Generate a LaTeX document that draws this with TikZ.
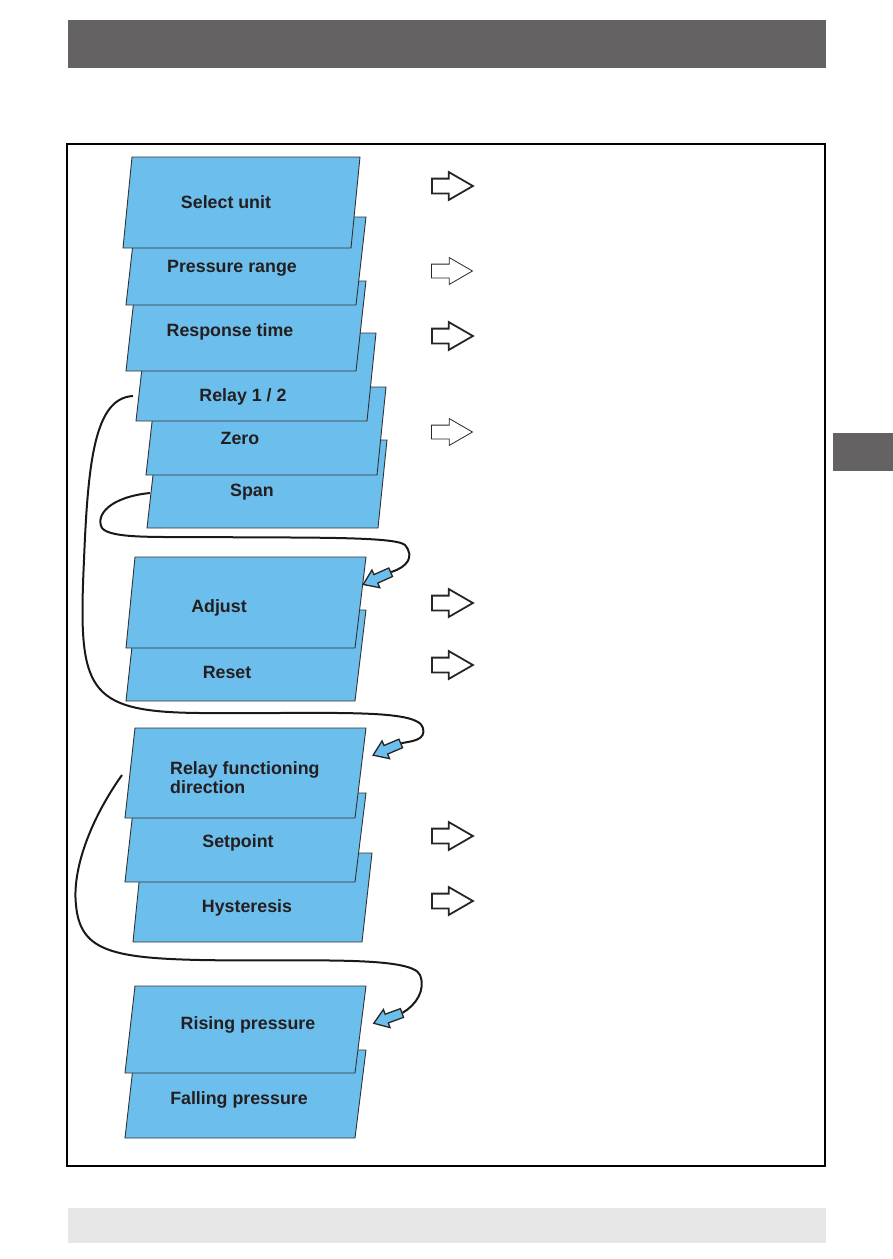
\documentclass[tikz,border=0pt]{standalone}
\usepackage{fontspec}
\setmainfont{Liberation Sans}
\usetikzlibrary{shapes.arrows}
\definecolor{foglio}{RGB}{108,190,236}
\definecolor{grigio}{RGB}{101,98,99}
\definecolor{grigiochiaro}{RGB}{230,230,230}
\definecolor{testo}{RGB}{35,31,32}

\begin{document}
\begin{tikzpicture}[x=1pt, y=-1pt, font=\bfseries\fontsize{17.8}{19.5}\selectfont,
    sheet/.style={fill=foglio, draw=black!80, line width=0.9pt},
    sheettext/.style={text=testo, inner sep=0pt},
    hollow/.style={single arrow, draw=black!85, fill=white, line width=1.8pt,
        minimum height=41pt, inner xsep=0pt, inner ysep=6.5pt,
        single arrow head extend=6.5pt, single arrow tip angle=60},
    thinhollow/.style={hollow, line width=0.8pt},
    bluearrow/.style={single arrow, draw=black!85, fill=foglio, line width=1.3pt,
        minimum height=30pt, inner xsep=0pt, inner ysep=4pt,
        single arrow head extend=5pt, single arrow tip angle=70},
    loopline/.style={draw=black!90, line width=2pt}]

        \useasboundingbox (0,0) rectangle (893,1259);

        % Barre grigie della pagina
        \fill[grigio] (68,20) rectangle (826,68);
        \fill[grigio] (833,433) rectangle (893,471);
        \fill[grigiochiaro] (68,1208) rectangle (826,1243);

        % Cornice
        \draw[line width=1.6pt] (67,144) rectangle (825,1166);

        % Primo gruppo di fogli (dal basso verso l'alto)
        \draw[sheet] (157,440) -- (387,440) -- (378,528) -- (147,528) -- cycle;
        \draw[sheet] (156,387) -- (386,387) -- (377,475) -- (146,475) -- cycle;
        \draw[sheet] (146,333) -- (376,333) -- (367,421) -- (136,421) -- cycle;
        \draw[sheet] (136,281) -- (366,281) -- (356,371) -- (126,371) -- cycle;
        \draw[sheet] (136,217) -- (366,217) -- (356,305) -- (126,305) -- cycle;
        \draw[sheet] (132,157) -- (360,157) -- (351,248) -- (123,248) -- cycle;

        \node[sheettext] (unit)   at (226,202) {Select unit};
        \node[sheettext] (prange) at (232,268) {Pressure range};
        \node[sheettext] (rtime)  at (230,332) {Response time};
        \node[sheettext] (relay)  at (243,397) {Relay 1 / 2};
        \node[sheettext] (zero)   at (240,438) {Zero};
        \node[sheettext] (span)   at (252,492) {Span};

        % Secondo gruppo
        \draw[sheet] (136,610) -- (366,610) -- (355,701) -- (126,701) -- cycle;
        \draw[sheet] (135,557) -- (366,557) -- (355,648) -- (126,648) -- cycle;

        \node[sheettext] (adjust) at (219,608) {Adjust};
        \node[sheettext] (reset)  at (227,672) {Reset};

        % Terzo gruppo
        \draw[sheet] (142,853) -- (372,853) -- (362,942) -- (133,942) -- cycle;
        \draw[sheet] (135,793) -- (366,793) -- (355,882) -- (125,882) -- cycle;
        \draw[sheet] (135,728) -- (366,728) -- (355,818) -- (125,818) -- cycle;

        \node[sheettext, align=left, anchor=west, font=\bfseries\fontsize{17.8}{19}\selectfont]
            (rfd) at (170,778) {Relay functioning\\direction};
        \node[sheettext] (setpt) at (238,843) {Setpoint};
        \node[sheettext] (hyst)  at (247,908) {Hysteresis};

        % Quarto gruppo
        \draw[sheet] (135,1050) -- (366,1050) -- (355,1138) -- (125,1138) -- cycle;
        \draw[sheet] (135,986) -- (366,986) -- (355,1073) -- (125,1073) -- cycle;

        \node[sheettext] (rising)  at (248,1025) {Rising pressure};
        \node[sheettext] (falling) at (239,1100) {Falling pressure};

        % Frecce vuote a destra
        \node[hollow]     (ha) at (446,186) {};
        \node[thinhollow] (hb) at (446,271) {};
        \node[hollow]     (hc) at (446,336) {};
        \node[thinhollow] (hd) at (446,432) {};
        \node[hollow]     (he) at (446,603) {};
        \node[hollow]     (hf) at (446,665) {};
        \node[hollow]     (hg) at (446,836) {};
        \node[hollow]     (hh) at (446,901) {};

        % Frecce azzurre
        \node[bluearrow, rotate=204] (ba) at (380,577) {};
        \node[bluearrow, rotate=203] (bb) at (390,748) {};
        \node[bluearrow, rotate=200] (bc) at (391,1017) {};

        % Punti di partenza delle curve
        \coordinate (relayout) at (133,396);
        \coordinate (spanout)  at (150,493);
        \coordinate (rfdout)   at (122,775);

        % Curve di collegamento
        \draw[loopline] (spanout) .. controls (110,497) and (95,515) .. (102,528)
            .. controls (110,538) and (150,537) .. (200,537)
            .. controls (300,538) and (395,536) .. (405,545)
            .. controls (415,557) and (407,567) .. (ba.tail);

        \draw[loopline] (relayout) .. controls (95,398) and (88,460) .. (84,560)
            .. controls (78,690) and (85,712) .. (200,713)
            .. controls (330,714) and (418,708) .. (423,728)
            .. controls (426,740) and (413,741) .. (bb.tail);

        \draw[loopline] (rfdout) .. controls (90,820) and (72,870) .. (76,905)
            .. controls (80,950) and (110,958) .. (200,960)
            .. controls (300,962) and (412,955) .. (420,975)
            .. controls (426,990) and (416,1005) .. (bc.tail);

    \end{tikzpicture}
\end{document}
